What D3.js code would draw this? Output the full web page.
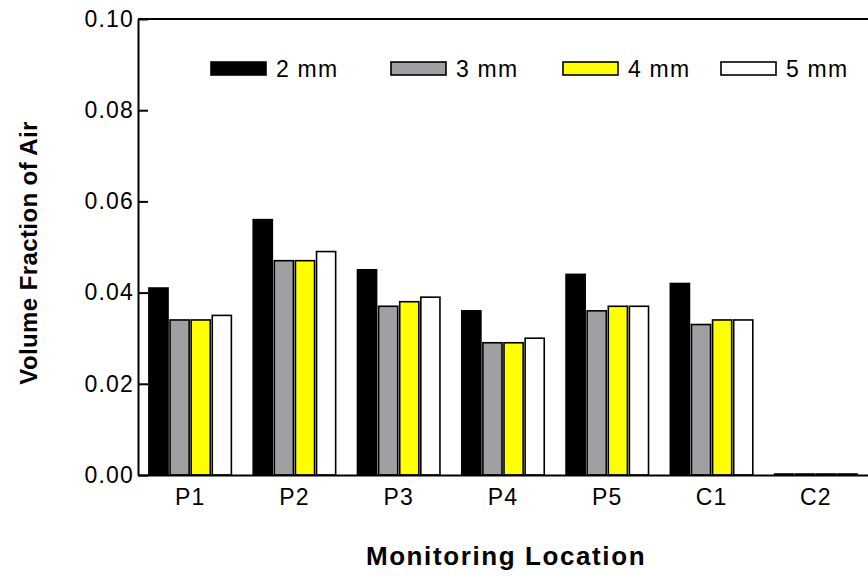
<!DOCTYPE html>
<html>
<head>
<meta charset="utf-8">
<script src="https://cdn.jsdelivr.net/npm/d3@7"></script>
<style>
  body { margin: 0; background: #fff; }
  text { font-family: "Liberation Sans", Arial, sans-serif; }
</style>
</head>
<body>
<div id="chart"></div>
<script>
// data
var locations = ['P1', 'P2', 'P3', 'P4', 'P5', 'C1', 'C2'];
var sizes = ['2 mm', '3 mm', '4 mm', '5 mm'];
var mm2 = [0.041, 0.056, 0.045, 0.036, 0.044, 0.042, 0.0];
var mm3 = [0.034, 0.047, 0.037, 0.029, 0.036, 0.033, 0.0];
var mm4 = [0.034, 0.047, 0.038, 0.029, 0.037, 0.034, 0.0];
var mm5 = [0.035, 0.049, 0.039, 0.030, 0.037, 0.034, 0.0];
var yTicks = [0.00, 0.02, 0.04, 0.06, 0.08, 0.10];

var seriesValues = [mm2, mm3, mm4, mm5];
var colors = ['#000000', '#a0a0a4', '#ffff00', '#ffffff'];

var svgWidth = 868;
var svgHeight = 578;

var margins = { top: 19, bottom: 103, right: 0, left: 138 };
var width = svgWidth - margins.left - margins.right;
var height = svgHeight - margins.top - margins.bottom;

var svg = d3.select('#chart')
    .append('svg')
    .attr('width', svgWidth)
    .attr('height', svgHeight);

var chartGroup = svg.append('g')
    .attr('transform', `translate(${margins.left}, ${margins.top})`);

// scales
var xScale = d3.scaleBand()
    .domain(locations)
    .range([0, width])
    .paddingInner(0.19)
    .paddingOuter(0.095);

var xInner = d3.scaleBand()
    .domain(sizes)
    .range([0, xScale.bandwidth()]);

var yScale = d3.scaleLinear()
    .domain([0, 0.10])
    .range([height, 0]);

// bars
var rows = [];
locations.forEach(function(loc, i) {
    sizes.forEach(function(s, j) {
        rows.push({ loc: loc, size: s, k: j, value: seriesValues[j][i] });
    });
});

// zero bars still show as a flat outline on the baseline
chartGroup.selectAll('rect.bar')
    .data(rows)
    .enter()
    .append('rect')
    .attr('class', 'bar')
    .attr('x', d => xScale(d.loc) + xInner(d.size) + 1)
    .attr('y', d => Math.min(yScale(d.value), height - 1))
    .attr('width', xInner.bandwidth() - 2)
    .attr('height', d => Math.max(1, height - yScale(d.value)))
    .attr('fill', d => colors[d.k])
    .attr('stroke', '#000')
    .attr('stroke-width', 1.6);

// axes
var leftAxis = d3.axisLeft(yScale)
    .tickValues(yTicks)
    .tickFormat(d3.format('.2f'))
    .tickSizeInner(-10)
    .tickSizeOuter(0)
    .tickPadding(6);

var yAxisG = chartGroup.append('g').call(leftAxis);
yAxisG.select('.domain').attr('stroke-width', 2);
yAxisG.selectAll('.tick line').attr('stroke-width', 2);
yAxisG.selectAll('.tick text')
    .attr('x', -4)
    .style('font-size', '23px')
    .style('letter-spacing', '1.2px')
    .attr('fill', '#000');

var bottomAxis = d3.axisBottom(xScale)
    .tickSize(0)
    .tickPadding(14);

var xAxisG = chartGroup.append('g')
    .attr('transform', `translate(0, ${height})`)
    .call(bottomAxis);
xAxisG.select('.domain').attr('stroke-width', 2);
xAxisG.selectAll('.tick text')
    .style('font-size', '23px')
    .style('letter-spacing', '1.2px')
    .attr('fill', '#000');

// top border
chartGroup.append('line')
    .attr('x1', 0).attr('x2', width)
    .attr('y1', 0).attr('y2', 0)
    .attr('stroke', '#000')
    .attr('stroke-width', 2);

// legend
var legendX = [73, 253, 425, 583];
var legend = chartGroup.selectAll('g.legend')
    .data(sizes)
    .enter()
    .append('g')
    .attr('class', 'legend')
    .attr('transform', (d, i) => `translate(${legendX[i]}, 43)`);

legend.append('rect')
    .attr('width', 55)
    .attr('height', 13)
    .attr('fill', (d, i) => colors[i])
    .attr('stroke', '#000')
    .attr('stroke-width', 1.6);

legend.append('text')
    .attr('x', 65)
    .attr('y', 15)
    .style('font-size', '23px')
    .style('letter-spacing', '1.2px')
    .text(d => d);

// axis titles
chartGroup.append('text')
    .attr('transform', 'rotate(-90)')
    .attr('x', -(height / 2) - 6)
    .attr('y', -margins.left + 37)
    .style('text-anchor', 'middle')
    .style('font-size', '24px')
    .style('font-weight', 'bold')
    .style('letter-spacing', '0.4px')
    .text('Volume Fraction of Air');

chartGroup.append('text')
    .attr('x', width / 2 + 3)
    .attr('y', height + 90)
    .style('text-anchor', 'middle')
    .style('font-size', '26px')
    .style('font-weight', 'bold')
    .style('letter-spacing', '1.6px')
    .text('Monitoring Location');
</script>
</body>
</html>
